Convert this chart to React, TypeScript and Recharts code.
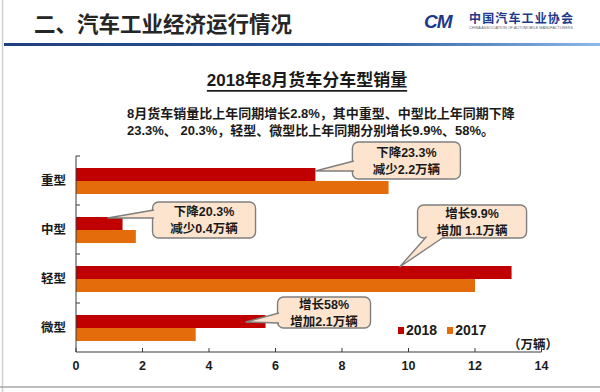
import React from 'react';
import { BarChart, Bar, XAxis, YAxis, LabelList, Legend } from 'recharts';

// ---------- data ----------
const categories = ['重型', '中型', '轻型', '微型'];
const sales2018 = [7.2, 1.4, 13.1, 5.7];
const sales2017 = [9.4, 1.8, 12.0, 3.6];
const xTicks = [0, 2, 4, 6, 8, 10, 12, 14];
const seriesNames = ['2018', '2017'];
const calloutLine1 = ['下降23.3%', '下降20.3%', '增长9.9%', '增长58%'];
const calloutLine2 = ['减少2.2万辆', '减少0.4万辆', '增加 1.1万辆', '增加2.1万辆'];

const headerText = '二、汽车工业经济运行情况';
const titleText = '2018年8月货车分车型销量';
const subtitleLines = [
  '8月货车销量比上年同期增长2.8%，其中重型、中型比上年同期下降',
  '23.3%、 20.3%，轻型、微型比上年同期分别增长9.9%、58%。',
];
const unitText = '（万辆）';

const data = categories.map((name, i) => ({ name, y2018: sales2018[i], y2017: sales2017[i] }));

// ---------- style / layout ----------
const W = 600;
const H = 392;
const PLOT_TOP = 156;
const PLOT_BOTTOM = 352;
const Y_AXIS_W = 40;
const X_AXIS_H = 30;
const BAND_HALF = (PLOT_BOTTOM - PLOT_TOP) / categories.length / 2;
const COLOR_2018 = '#C00000';
const COLOR_2017 = '#E46C0A';
const FONT = "'Liberation Sans', 'Noto Sans CJK SC', sans-serif";
const AXIS_COLOR = '#3a3a3a';

// callout geometry, relative to the end / top of each 2018 bar
const calloutGeom = [
  { tipDx: 0, tipDy: 3, boxDx: 37, boxDy: -26, w: 108, h: 37, side: 'left', b1: 19, b2: 29 },
  { tipDx: -15, tipDy: 1, boxDx: 30, boxDy: -15, w: 103, h: 36, side: 'left', b1: 8, b2: 16 },
  { tipDx: -112, tipDy: 1, boxDx: -94, boxDy: -61, w: 109, h: 33, side: 'bottom', b1: 9, b2: 27 },
  { tipDx: -20, tipDy: 7, boxDx: 12, boxDy: -18, w: 93, h: 31, side: 'left', b1: 16, b2: 26 },
];

const Callout = (props: any) => {
  let idx = props.index;
  if (idx === undefined || idx === null) idx = sales2018.indexOf(props.value);
  const g = calloutGeom[idx];
  if (!g) return null;
  const vb = props.viewBox || {};
  const x = props.x ?? vb.x;
  const y = props.y ?? vb.y;
  const width = props.width ?? vb.width;
  const endX = x + width;
  const tipX = endX + g.tipDx;
  const tipY = y + g.tipDy;
  const bx = endX + g.boxDx;
  const by = y + g.boxDy;
  let p1: number[];
  let p2: number[];
  if (g.side === 'left') {
    p1 = [bx + 1.5, by + g.b1];
    p2 = [bx + 1.5, by + g.b2];
  } else {
    p1 = [bx + g.b1, by + g.h - 1.5];
    p2 = [bx + g.b2, by + g.h - 1.5];
  }
  const cx = bx + g.w / 2;
  const cy = by + g.h / 2;
  const fill = '#FCE4CF';
  const stroke = '#7f7f7f';
  return (
    <g>
      <rect x={bx} y={by} width={g.w} height={g.h} rx={6} ry={6} fill={fill} stroke={stroke} strokeWidth={1.4} />
      <polygon points={`${p1[0]},${p1[1]} ${tipX},${tipY} ${p2[0]},${p2[1]}`} fill={fill} stroke="none" />
      <polyline points={`${p1[0]},${p1[1]} ${tipX},${tipY} ${p2[0]},${p2[1]}`} fill="none" stroke={stroke} strokeWidth={1.4} />
      <text x={cx} y={cy - 8} textAnchor="middle" dominantBaseline="central" fontFamily={FONT} fontSize={12.5} fontWeight="bold" fill="#1a1a1a">
        {calloutLine1[idx]}
      </text>
      <text x={cx} y={cy + 9} textAnchor="middle" dominantBaseline="central" fontFamily={FONT} fontSize={12.5} fontWeight="bold" fill="#1a1a1a">
        {calloutLine2[idx]}
      </text>
    </g>
  );
};

const XTick = (props: any) => {
  const { x, y, payload } = props;
  return (
    <g>
      <line x1={x} x2={x} y1={y} y2={y - 4} stroke={AXIS_COLOR} strokeWidth={1} />
      <text x={x} y={y + 14} textAnchor="middle" dominantBaseline="central" fontFamily={FONT} fontSize={12.5} fontWeight="bold" fill="#1a1a1a">
        {payload.value}
      </text>
    </g>
  );
};

const YTick = (props: any) => {
  const { x, y, payload } = props;
  return (
    <g>
      <line x1={x} x2={x + 4} y1={y - BAND_HALF} y2={y - BAND_HALF} stroke={AXIS_COLOR} strokeWidth={1} />
      <text x={x - 10} y={y} textAnchor="end" dominantBaseline="central" fontFamily={FONT} fontSize={12.5} fontWeight="bold" fill="#1a1a1a">
        {payload.value}
      </text>
    </g>
  );
};

const LegendContent = () => {
  const colors = [COLOR_2018, COLOR_2017];
  return (
    <div style={{ display: 'flex', alignItems: 'center', fontFamily: FONT, fontSize: 14, fontWeight: 'bold', color: '#1a1a1a', lineHeight: '20px' }}>
      {seriesNames.map((n, i) => (
        <div key={n} style={{ display: 'flex', alignItems: 'center', marginRight: i === 0 ? 10 : 0 }}>
          <span style={{ display: 'inline-block', width: 6, height: 7, background: colors[i], marginRight: 2 }} />
          <span>{n}</span>
        </div>
      ))}
    </div>
  );
};

export default function App() {
  return (
    <div style={{ position: 'absolute', left: 0, top: 0, width: W, height: H, background: '#fff', overflow: 'hidden' }}>
      <svg width={W} height={H} style={{ position: 'absolute', left: 0, top: 0 }}>
        <defs>
          <linearGradient id="hdrLine" x1="0" x2="1" y1="0" y2="0">
            <stop offset="0" stopColor="#1F3F7F" />
            <stop offset="0.6" stopColor="#2F5B9E" />
            <stop offset="1" stopColor="#8DB8EA" />
          </linearGradient>
        </defs>
        {/* frame */}
        <line x1={2.5} x2={2.5} y1={0} y2={H} stroke="#cfcfcf" strokeWidth={1.5} />
        <line x1={0} x2={W} y1={387} y2={387} stroke="#a8a8a8" strokeWidth={1.5} />
        {/* header */}
        <text x={34} y={22.5} dominantBaseline="central" fontFamily="'Noto Sans CJK SC', sans-serif" fontSize={21.5} fontWeight="bold" fill="#262626">
          {headerText}
        </text>
        <rect x={4} y={43} width={W - 4} height={3} fill="url(#hdrLine)" />
        {/* logo */}
        <text x={424} y={21} dominantBaseline="central" fontFamily={FONT} fontSize={19} fontStyle="italic" fontWeight="bold" fill="#22398A" letterSpacing={-1}>
          CM
        </text>
        <text x={469} y={17} dominantBaseline="central" fontFamily="'Noto Sans CJK SC', sans-serif" fontSize={12} fontWeight="bold" fill="#22398A" textLength={104} lengthAdjust="spacing">
          中国汽车工业协会
        </text>
        <text x={469} y={28} dominantBaseline="central" fontFamily={FONT} fontSize={3.5} fill="#666" textLength={104} lengthAdjust="spacingAndGlyphs">
          CHINA ASSOCIATION OF AUTOMOBILE MANUFACTURERS
        </text>
        {/* title */}
        <text x={307} y={80.5} textAnchor="middle" dominantBaseline="central" fontFamily={FONT} fontSize={17} fontWeight="bold" fill="#1a1a1a" style={{ textDecoration: 'underline' }}>
          {titleText}
        </text>
        {/* subtitle */}
        {subtitleLines.map((t, i) => (
          <text key={i} x={127} y={113 + i * 17} dominantBaseline="central" fontFamily={FONT} fontSize={13} fontWeight="bold" fill="#1a1a1a">
            {t}
          </text>
        ))}
        {/* unit */}
        <text x={508} y={345} dominantBaseline="central" fontFamily={FONT} fontSize={12.5} fontWeight="bold" fill="#1a1a1a">
          {unitText}
        </text>
      </svg>
      <div style={{ position: 'absolute', left: 0, top: 0 }}>
        <BarChart
          width={W}
          height={H}
          data={data}
          layout="vertical"
          margin={{ top: PLOT_TOP, right: 58.5, bottom: H - PLOT_BOTTOM - X_AXIS_H, left: 76 - Y_AXIS_W }}
          barSize={13}
          barGap={0}
        >
          <XAxis
            type="number"
            domain={[0, 14]}
            ticks={xTicks}
            height={X_AXIS_H}
            tickSize={0}
            tickMargin={0}
            tickLine={false}
            axisLine={{ stroke: AXIS_COLOR, strokeWidth: 1 }}
            tick={<XTick />}
            interval={0}
          />
          <YAxis
            type="category"
            dataKey="name"
            width={Y_AXIS_W}
            tickSize={0}
            tickMargin={0}
            tickLine={false}
            axisLine={{ stroke: AXIS_COLOR, strokeWidth: 1 }}
            tick={<YTick />}
            interval={0}
          />
          <Legend
            layout="horizontal"
            verticalAlign="middle"
            align="center"
            content={<LegendContent />}
            wrapperStyle={{ position: 'absolute', left: 398, top: 320, width: 110, height: 20 }}
          />
          <Bar dataKey="y2018" name={seriesNames[0]} fill={COLOR_2018} isAnimationActive={false}>
            <LabelList dataKey="y2018" content={<Callout />} />
          </Bar>
          <Bar dataKey="y2017" name={seriesNames[1]} fill={COLOR_2017} isAnimationActive={false} />
        </BarChart>
      </div>
    </div>
  );
}
